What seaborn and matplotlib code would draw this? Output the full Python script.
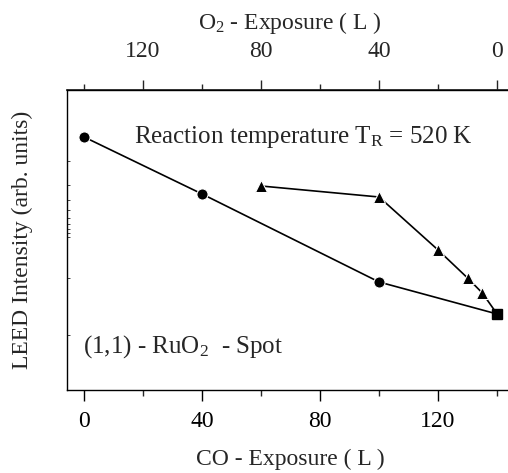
import numpy as np
import pandas as pd
import matplotlib
matplotlib.use("Agg")
import matplotlib.pyplot as plt
import seaborn as sns
from matplotlib.ticker import FixedLocator

# --- data ---
co_circle = [0, 40, 100]
int_circle = [253, 196, 108]
co_triangle = [60, 100, 120, 130, 135]
int_triangle = [204, 193, 140, 112, 97]
co_end = [140]
int_end = [76]

sns.set_theme(style="ticks")
plt.rcParams['font.family'] = ['Liberation Serif', 'DejaVu Serif']
plt.rcParams['mathtext.fontset'] = 'custom'
plt.rcParams['mathtext.rm'] = 'Liberation Serif'
plt.rcParams['mathtext.it'] = 'Liberation Serif:italic'

fig = plt.figure(figsize=(5.08, 4.73), dpi=100)
ax = fig.add_axes([67/508, 1-390/473, 1.0 - 67/508 + 0.01, (390-90)/473])

circ_df = pd.DataFrame({"x": co_circle + co_end, "y": int_circle + int_end})
tri_df = pd.DataFrame({"x": co_triangle + co_end, "y": int_triangle + int_end})
end_df = pd.DataFrame({"x": co_end, "y": int_end})

n_c = len(co_circle)
n_t = len(co_triangle)
sns.lineplot(data=circ_df, x="x", y="y", ax=ax, color="black", lw=1.2,
             marker="o", markersize=8, markevery=list(range(n_c)), sort=False)
sns.lineplot(data=tri_df, x="x", y="y", ax=ax, color="black", lw=1.2,
             marker="^", markersize=8.5, markevery=list(range(n_t)), sort=False)
ax.plot(end_df["x"], end_df["y"], ls="none", marker="s", color="black", markersize=7)

ax.set_xlim(-5.8, 143.7 + 0.01 * 508 / 2.95)
ax.set_ylim(0, 300)
ax.spines['right'].set_visible(False)
for s in ['left', 'bottom', 'top']:
    ax.spines[s].set_linewidth(1.0)
    ax.spines[s].set_color('black')

ax.set_xticks([0, 40, 80, 120])
ax.xaxis.set_minor_locator(FixedLocator([20, 60, 100, 140]))
ax.tick_params(axis='x', which='major', direction='out', length=8, width=1.0,
               labelsize=17, pad=7, colors='black')
ax.tick_params(axis='x', which='minor', direction='out', length=4, width=1.0)
ax.set_yticks([])
ax.yaxis.set_minor_locator(FixedLocator([229, 205, 190, 180, 172, 166, 161, 157, 153, 112, 55]))
ax.tick_params(axis='y', which='minor', direction='in', length=2, width=0.6)
ax.set_xlabel("CO - Exposure ( L )", fontsize=17, labelpad=12)
ax.set_ylabel("LEED Intensity (arb. units)", fontsize=17, labelpad=21)

sec = ax.secondary_xaxis('top', functions=(lambda x: 140 - x, lambda x: 140 - x))
sec.set_xticks([0, 40, 80, 120])
sec.xaxis.set_minor_locator(FixedLocator([20, 60, 100, 140]))
sec.tick_params(axis='x', which='major', direction='out', length=7, width=1.0,
                labelsize=17, pad=13)
sec.tick_params(axis='x', which='minor', direction='out', length=4, width=1.0)
sec.set_xlabel(r"O$_\mathregular{2}$ - Exposure ( L )", fontsize=17, labelpad=9)

ax.text(0.53, 0.845, r"Reaction temperature T$_\mathregular{R}$ = 520 K",
        transform=ax.transAxes, fontsize=18, ha='center', va='center')
ax.text(0.035, 0.145, r"(1,1) - RuO$_\mathregular{2}$  - Spot",
        transform=ax.transAxes, fontsize=18, ha='left', va='center')

fig.savefig("out.png", dpi=100)
